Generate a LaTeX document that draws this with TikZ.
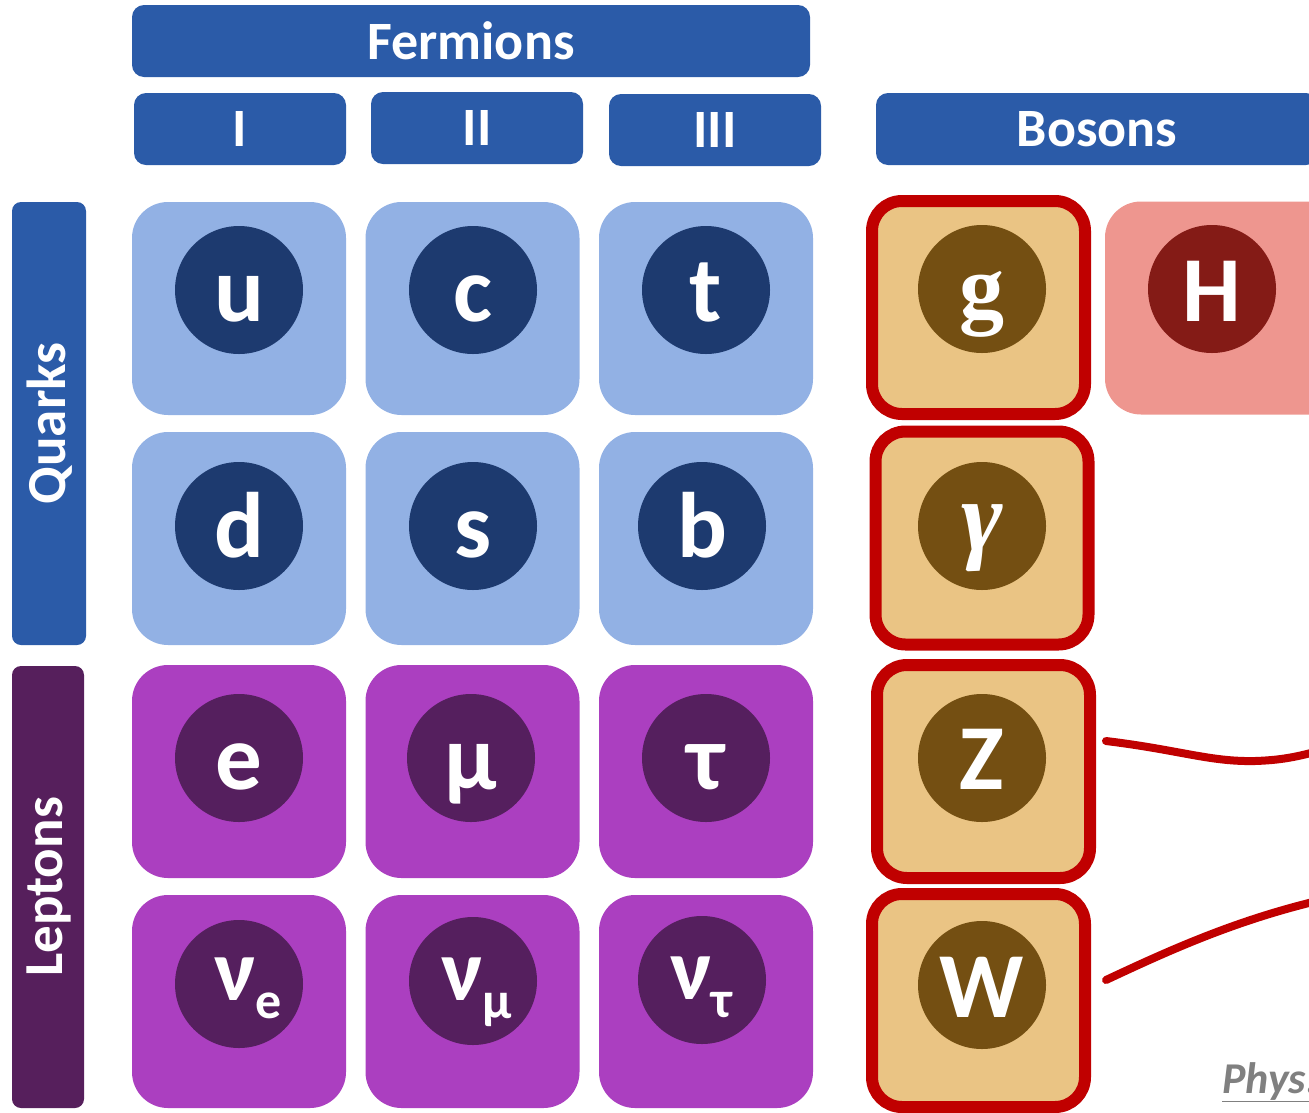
\documentclass[tikz,border=0pt]{standalone}
\usepackage{fontspec}
\setmainfont{Carlito}
\newfontfamily\serifface{Liberation Serif}
\definecolor{hdrblue}{HTML}{2B5BA8}
\definecolor{qcellc}{HTML}{92B1E4}
\definecolor{qdotc}{HTML}{1D3A6F}
\definecolor{lcellc}{HTML}{AB3FC0}
\definecolor{ldotc}{HTML}{551F5E}
\definecolor{lside}{HTML}{561F5C}
\definecolor{bfill}{HTML}{EAC484}
\definecolor{bdotc}{HTML}{744F12}
\definecolor{bred}{HTML}{C00000}
\definecolor{hfill}{HTML}{EE968F}
\definecolor{hdotc}{HTML}{841B16}
\definecolor{physgray}{HTML}{808080}
\tikzset{
  hdr/.style={fill=hdrblue, rounded corners=12pt, inner sep=0pt, text=white,
    font=\fontsize{54}{54}\selectfont\bfseries},
  cellbox/.style={rounded corners=36pt, inner sep=0pt, minimum width=214pt, minimum height=213pt},
  qcell/.style={cellbox, fill=qcellc},
  lcell/.style={cellbox, fill=lcellc},
  bcell/.style={rounded corners=30pt, inner sep=0pt, minimum width=213pt, minimum height=213pt,
    fill=bfill, draw=bred, line width=12pt},
  hcell/.style={cellbox, fill=hfill, minimum width=240pt},
  dot/.style={circle, inner sep=0pt, minimum size=128pt},
  qdot/.style={dot, fill=qdotc},
  ldot/.style={dot, fill=ldotc},
  bdot/.style={dot, fill=bdotc},
  hdot/.style={dot, fill=hdotc},
  letter/.style={anchor=base, inner sep=0pt, text=white, font=\fontsize{93}{93}\selectfont\bfseries},
  nuletter/.style={anchor=base west, inner sep=0pt, text=white, font=\fontsize{88}{88}\selectfont\bfseries},
  sidebar/.style={rounded corners=9pt, inner sep=0pt, text=white},
  sidelbl/.style={rotate=90, text=white, inner sep=0pt, font=\fontsize{55}{55}\selectfont\bfseries},
  wire/.style={draw=bred, line width=8pt, line cap=round},
}
\newcommand{\nusub}[1]{\raisebox{-18pt}{\fontsize{52}{52}\selectfont #1}}
\begin{document}
\begin{tikzpicture}[x=1pt, y=-1pt]
\useasboundingbox (0,0) rectangle (1309,1112);
\clip (0,0) rectangle (1309,1112);

% headers
\node[hdr, minimum width=678pt, minimum height=72pt] (fermions) at (471,41) {Fermions};
\node[hdr, minimum width=212pt, minimum height=72pt] (genI) at (240,129) {I};
\node[hdr, minimum width=212pt, minimum height=72pt] (genII) at (477,128) {II};
\node[hdr, minimum width=212pt, minimum height=72pt] (genIII) at (715,130) {III};
\node[hdr, minimum width=442pt, minimum height=72pt] (bosons) at (1097,129) {Bosons};

% side bars
\node[sidebar, fill=hdrblue, minimum width=74pt, minimum height=443pt] (quarksbar) at (49,423.5) {};
\node[sidelbl] (quarkslbl) at (50,423.5) {Quarks};
\node[sidebar, fill=lside, minimum width=72pt, minimum height=442pt] (leptonsbar) at (48,887) {};
\node[sidelbl] (leptonslbl) at (49,887) {Leptons};

% quark cells
\node[qcell] (cu) at (239,308.5) {};
\node[qcell] (cc) at (472.5,308.5) {};
\node[qcell] (ct) at (706,308.5) {};
\node[qcell] (cd) at (239,538.5) {};
\node[qcell] (cs) at (472.5,538.5) {};
\node[qcell] (cb) at (706,538.5) {};
\node[qdot] (du) at (239,290) {};
\node[qdot] (dc) at (473,290) {};
\node[qdot] (dt) at (706,290) {};
\node[qdot] (dd) at (239,526) {};
\node[qdot] (ds) at (473,526) {};
\node[qdot] (db) at (702,526) {};
\node[letter] (tu) at (239,321) {u};
\node[letter] (tc) at (473,321) {c};
\node[letter] (tt) at (706,321) {t};
\node[letter] (td) at (239,557) {d};
\node[letter] (ts) at (473,557) {s};
\node[letter] (tb) at (702,557) {b};

% lepton cells
\node[lcell] (ce) at (239,771.5) {};
\node[lcell] (cmu) at (472.5,771.5) {};
\node[lcell] (ctau) at (706,771.5) {};
\node[lcell] (cnue) at (239,1001.5) {};
\node[lcell] (cnumu) at (472.5,1001.5) {};
\node[lcell] (cnutau) at (706,1001.5) {};
\node[ldot] (de) at (239,758) {};
\node[ldot] (dmu) at (471,758) {};
\node[ldot] (dtau) at (706,758) {};
\node[ldot] (dnue) at (239,984) {};
\node[ldot] (dnumu) at (473,981) {};
\node[ldot] (dnutau) at (702,980) {};
\node[letter] (te) at (239,789) {e};
\node[letter] (tmu) at (471,789) {μ};
\node[letter] (ttau) at (706,789) {τ};
\node[nuletter] (tnue) at (214,1000) {ν\nusub{e}};
\node[nuletter] (tnumu) at (441,1000) {ν\nusub{μ}};
\node[nuletter] (tnutau) at (670,999) {ν\nusub{τ}};

% bosons
\node[bcell] (cg) at (978.5,307.5) {};
\node[bcell] (cgamma) at (982,538) {};
\node[bcell] (cz) at (983.5,771.5) {};
\node[bcell] (cw) at (978.5,1000.5) {};
\node[hcell] (ch) at (1225,308) {};
\node[bdot] (dg) at (982,289) {};
\node[bdot] (dgamma) at (982,526) {};
\node[bdot] (dz) at (982,758) {};
\node[bdot] (dw) at (982,985) {};
\node[hdot] (dh) at (1212,289) {};
\node[letter, font=\fontsize{90}{90}\selectfont\serifface\bfseries] (tg) at (982,317) {g};
\node[letter, font=\fontsize{100}{100}\selectfont\serifface\bfseries\itshape] (tgamma) at (982,550) {γ};
\node[letter] (tz) at (982,789) {Z};
\node[letter] (tw) at (982,1017) {W};
\node[letter] (th) at (1212,321) {H};

% wavy connectors to the right
\coordinate (zs) at (1106,741);
\coordinate (ze) at (1330,748);
\coordinate (ws) at (1106,980);
\coordinate (we) at (1330,898);
\draw[wire] (zs) .. controls (1180,750) and (1210,762) .. (1255,761) .. controls (1285,760) and (1300,756) .. (ze);
\draw[wire] (ws) .. controls (1170,950) and (1240,918) .. (we);

% credit
\node[anchor=base west, inner sep=0pt, text=physgray, font=\fontsize{44}{44}\selectfont\bfseries\itshape] (phys) at (1222,1093) {\underline{Phys.}};
\end{tikzpicture}
\end{document}
